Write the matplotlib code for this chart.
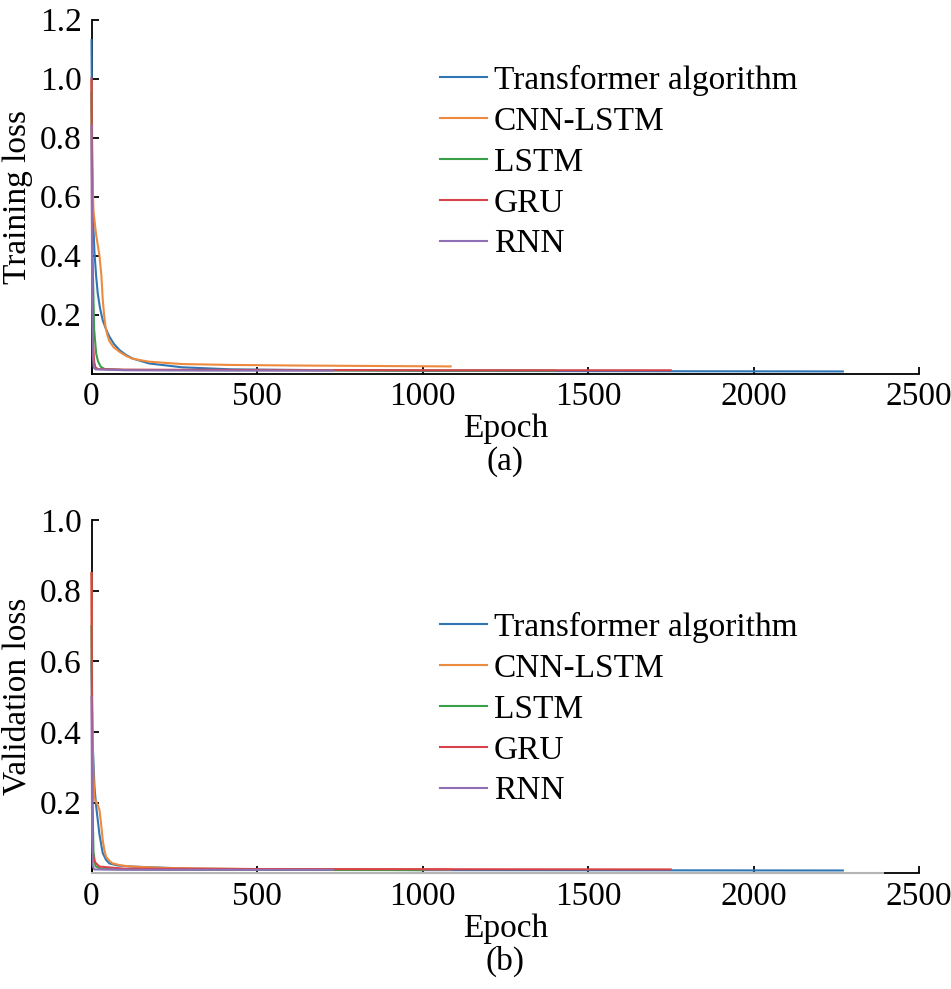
import matplotlib
matplotlib.use("Agg")
import matplotlib.pyplot as plt

plt.rcParams['font.family'] = ['Liberation Serif', 'DejaVu Serif']
plt.rcParams['font.size'] = 24

labels = ["Transformer algorithm", "CNN-LSTM", "LSTM", "GRU", "RNN"]
colors = ["#2f77b4", "#ee8a3e", "#3aa048", "#d6434a", "#8f6fb6"]

# ---- (a) training loss ----
tr_transformer_x = [0, 2, 5, 9, 14, 19, 26, 34, 44, 54, 68, 84, 104, 124, 174, 274, 424, 624, 1000, 1500, 2270]
tr_transformer_y = [1.13, 0.75, 0.52, 0.41, 0.33, 0.27, 0.22, 0.18, 0.15, 0.125, 0.10, 0.08, 0.063, 0.051, 0.034, 0.021, 0.014, 0.012, 0.009, 0.008, 0.007]
tr_cnnlstm_x = [0, 2, 6, 14, 24, 30, 34, 38, 42, 48, 54, 66, 84, 104, 124, 174, 274, 424, 624, 1085]
tr_cnnlstm_y = [0.99, 0.70, 0.55, 0.47, 0.40, 0.33, 0.25, 0.20, 0.16, 0.13, 0.11, 0.09, 0.074, 0.06, 0.05, 0.04, 0.032, 0.029, 0.027, 0.024]
tr_lstm_x = [0, 3, 8, 14, 20, 28, 40, 100, 500, 1000, 1400]
tr_lstm_y = [0.95, 0.40, 0.15, 0.068, 0.04, 0.023, 0.015, 0.012, 0.011, 0.010, 0.010]
tr_gru_x = [0, 2, 5, 8, 12, 20, 100, 500, 1000, 1750]
tr_gru_y = [1.0, 0.40, 0.10, 0.04, 0.02, 0.015, 0.013, 0.012, 0.011, 0.011]
tr_rnn_x = [0, 2, 4, 7, 12, 100, 400, 730]
tr_rnn_y = [0.84, 0.25, 0.06, 0.02, 0.014, 0.011, 0.010, 0.010]

# ---- (b) validation loss ----
va_transformer_x = [0, 3, 9, 14, 24, 34, 44, 54, 80, 124, 300, 600, 1000, 2270]
va_transformer_y = [0.60, 0.38, 0.245, 0.19, 0.11, 0.057, 0.038, 0.028, 0.022, 0.019, 0.013, 0.011, 0.009, 0.008]
va_cnnlstm_x = [0, 2, 5, 9, 16, 24, 29, 34, 39, 44, 54, 64, 90, 124, 224, 500, 1085]
va_cnnlstm_y = [0.85, 0.50, 0.30, 0.21, 0.20, 0.18, 0.14, 0.094, 0.065, 0.047, 0.035, 0.028, 0.022, 0.019, 0.015, 0.012, 0.011]
va_lstm_x = [0, 3, 6, 12, 30, 200, 1000]
va_lstm_y = [0.70, 0.20, 0.06, 0.02, 0.012, 0.010, 0.009]
va_gru_x = [0, 2, 4, 8, 14, 24, 100, 500, 1750]
va_gru_y = [0.85, 0.25, 0.057, 0.035, 0.028, 0.019, 0.013, 0.012, 0.011]
va_rnn_x = [0, 2, 4, 8, 100, 730]
va_rnn_y = [0.50, 0.10, 0.02, 0.011, 0.010, 0.010]
va_extra_x = [0, 2390]
va_extra_y = [0.001, 0.001]

x_ticks = [0, 500, 1000, 1500, 2000, 2500]
ya_ticks = [0.2, 0.4, 0.6, 0.8, 1.0, 1.2]
yb_ticks = [0.2, 0.4, 0.6, 0.8, 1.0]

W, H = 951, 989
fig = plt.figure(figsize=(W / 100, H / 100), dpi=100)


def make_ax(top_px, bottom_px):
    left, right = 91.5, 919
    return fig.add_axes([left / W, 1 - bottom_px / H, (right - left) / W, (bottom_px - top_px) / H])


def style(ax, ymax, yticks, ylabel, sub, leg_top_px):
    ax.set_xlim(0, 2500)
    ax.set_ylim(0, ymax)
    ax.set_xticks(x_ticks)
    ax.set_xticklabels([str(t) for t in x_ticks])
    ax.set_yticks(yticks)
    ax.set_yticklabels([f"{t:.1f}" for t in yticks])
    for s in ("top", "right"):
        ax.spines[s].set_visible(False)
    for s in ("left", "bottom"):
        ax.spines[s].set_linewidth(1.3)
    ax.tick_params(direction="in", length=5, width=1.3, labelsize=24)
    ax.tick_params(axis="x", pad=6)
    ax.tick_params(axis="y", pad=7)
    ax.set_xlabel("Epoch", fontsize=24, labelpad=1)
    ax.set_ylabel(ylabel, fontsize=24, labelpad=5)
    ax.text(0.5, -0.248, sub, transform=ax.transAxes, ha="center", va="center", fontsize=24)
    ax.legend(loc="upper left", bbox_to_anchor=(440 / W, 1 - leg_top_px / H),
              bbox_transform=fig.transFigure, frameon=False, fontsize=24,
              handlelength=1.4, handletextpad=0.22, labelspacing=0.31,
              borderpad=0, borderaxespad=0)


lw = 1.5
kw = dict(lw=lw, zorder=3, clip_on=False)
axa = make_ax(19.5, 373.5)
axa.plot(tr_transformer_x, tr_transformer_y, color=colors[0], label=labels[0], **kw)
axa.plot(tr_cnnlstm_x, tr_cnnlstm_y, color=colors[1], label=labels[1], **kw)
axa.plot(tr_lstm_x, tr_lstm_y, color=colors[2], label=labels[2], **kw)
axa.plot(tr_gru_x, tr_gru_y, color=colors[3], label=labels[3], **kw)
axa.plot(tr_rnn_x, tr_rnn_y, color=colors[4], label=labels[4], **kw)
style(axa, 1.2, ya_ticks, "Training loss", "(a)", 65)

axb = make_ax(520, 873.3)
axb.plot(va_extra_x, va_extra_y, color="#b5b5b5", **kw)
axb.plot(va_transformer_x, va_transformer_y, color=colors[0], label=labels[0], **kw)
axb.plot(va_cnnlstm_x, va_cnnlstm_y, color=colors[1], label=labels[1], **kw)
axb.plot(va_lstm_x, va_lstm_y, color=colors[2], label=labels[2], **kw)
axb.plot(va_gru_x, va_gru_y, color=colors[3], label=labels[3], **kw)
axb.plot(va_rnn_x, va_rnn_y, color=colors[4], label=labels[4], **kw)
style(axb, 1.0, yb_ticks, "Validation loss", "(b)", 612)

fig.savefig("out.png", dpi=100)
